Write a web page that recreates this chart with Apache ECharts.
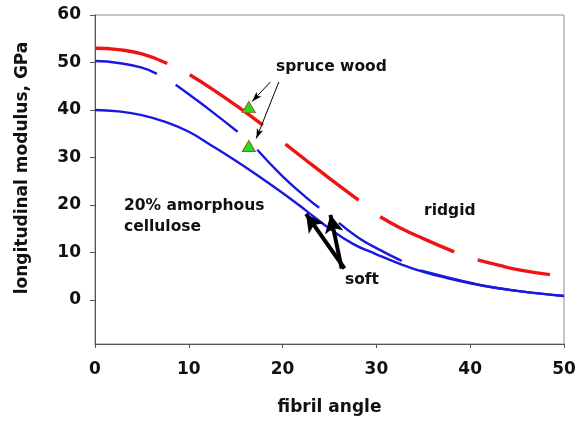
<!DOCTYPE html>
<html>
<head>
<meta charset="utf-8">
<script src="https://cdn.jsdelivr.net/npm/echarts@6/dist/echarts.min.js"></script>
<style>html,body{margin:0;padding:0;background:#fff}#c{width:588px;height:422px}</style>
</head>
<body>
<div id="c"></div>
<script>
// ---- data (x = fibril angle, y = modulus GPa); null = dash gap
const xTicks = [0, 10, 20, 30, 40, 50];
const yTicks = [0, 10, 20, 30, 40, 50, 60];

const ridgid = [[0,53],[2.5,52.7],[5,51.8],[7.7,49.8],[8.9,null],[10.1,47.4],[12.5,44.4],[15,41.0],[17.9,36.8],[19.1,null],
  [20.3,32.8],[22.5,29.4],[25,25.6],[28.1,21.0],[29.2,null],[30.4,17.5],[32.5,15.2],[35,12.9],[38.3,10.1],[39.5,null],
  [40.8,8.4],[43,7.3],[45.5,6.2],[48.5,5.3]];

const softDashed = [[0,50.3],[2.5,49.9],[5,48.9],[6.6,47.6],[7.6,null],[8.6,45.3],[10,43.3],[12.5,39.6],[15.2,35.4],[16.2,null],
  [17.3,31.6],[20,26.0],[22.5,21.6],[23.9,19.4],[25,null],[26,16.2],[28,13.2],[30,10.9],[32.7,8.2],[33.7,null],
  [34.7,6.2],[37.5,4.8],[40,3.6],[42.5,2.6],[45,1.9],[47.5,1.3],[50,0.8]];

const amorphous20 = [[0,40],[2.5,39.7],[5,38.9],[7.5,37.5],[10,35.4],[12.5,32.4],[15,29.3],[17.5,26.0],[20,22.5],[22.5,18.8],
  [25,15.0],[27.5,11.8],[30,9.6],[32.5,7.6],[35,5.9],[37.5,4.6],[40,3.5],[42.5,2.6],[45,1.9],[47.5,1.3],[50,0.8]];

const spruceWood = [[16.4,40.6],[16.4,32.4]];

// annotation arrows: [tail, tip]
const spruceArrows = [[[18.7,45.9],[16.75,41.8]], [[19.6,45.9],[17.2,34.0]]];
const softArrows = [[[26.6,6.6],[22.5,18.1]], [[26.3,6.6],[25.1,17.9]]];

const FONT = '"DejaVu Sans", sans-serif';
const RED = '#ee1414';
const BLUE = '#1818e0';

const chart = echarts.init(document.getElementById('c'), null, {renderer: 'canvas'});

function arrowLines(list, width, size) {
  return list.map(function (a) {
    return [
      {coord: a[0], symbol: 'none'},
      {coord: a[1], symbol: 'arrow', symbolSize: size, lineStyle: {color: '#000', width: width, type: 'solid'}}
    ];
  });
}

const lineCommon = {type: 'line', showSymbol: false, smooth: 0.5, connectNulls: false, silent: true};

chart.setOption({
  animation: false,
  backgroundColor: '#fff',
  grid: {left: 95, right: 24, top: 15, bottom: 78, show: true, borderColor: '#8c8c8c', borderWidth: 1, containLabel: false},
  xAxis: {
    type: 'value', min: 0, max: 50, interval: 10,
    axisLine: {show: true, onZero: false, lineStyle: {color: '#555', width: 1}},
    axisTick: {show: true, inside: false, length: 4, lineStyle: {color: '#555'}},
    axisLabel: {margin: 17, color: '#111', fontFamily: FONT, fontWeight: 'bold', fontSize: 17,
      formatter: function (v) { return xTicks.indexOf(v) >= 0 ? String(v) : ''; }},
    splitLine: {show: false},
    name: 'fibril angle', nameLocation: 'middle', nameGap: 55,
    nameTextStyle: {color: '#111', fontFamily: FONT, fontWeight: 'bold', fontSize: 17}
  },
  yAxis: {
    type: 'value', min: -9.3, max: 60,
    axisLine: {show: true, onZero: false, lineStyle: {color: '#555', width: 1}},
    axisTick: {show: true, inside: false, length: 5, customValues: yTicks, lineStyle: {color: '#555'}},
    axisLabel: {margin: 14, color: '#111', fontFamily: FONT, fontWeight: 'bold', fontSize: 17, customValues: yTicks},
    splitLine: {show: false}
  },
  graphic: [
    {type: 'text', x: 23, y: 168, rotation: Math.PI / 2,
      style: {text: 'longitudinal modulus, GPa', font: 'bold 17px ' + FONT, fill: '#111', align: 'center', verticalAlign: 'middle'}},
    {type: 'text', x: 276, y: 67,
      style: {text: 'spruce wood', font: 'bold 15.5px ' + FONT, fill: '#111', align: 'left', verticalAlign: 'middle'}},
    {type: 'text', x: 124, y: 206,
      style: {text: '20% amorphous', font: 'bold 15.5px ' + FONT, fill: '#111', align: 'left', verticalAlign: 'middle'}},
    {type: 'text', x: 124, y: 227,
      style: {text: 'cellulose', font: 'bold 15.5px ' + FONT, fill: '#111', align: 'left', verticalAlign: 'middle'}},
    {type: 'text', x: 424, y: 211,
      style: {text: 'ridgid', font: 'bold 15.5px ' + FONT, fill: '#111', align: 'left', verticalAlign: 'middle'}},
    {type: 'text', x: 345, y: 280,
      style: {text: 'soft', font: 'bold 15.5px ' + FONT, fill: '#111', align: 'left', verticalAlign: 'middle'}}
  ],
  series: [
    Object.assign({}, lineCommon, {name: '20% amorphous cellulose', data: amorphous20, lineStyle: {color: BLUE, width: 2.4}, z: 2}),
    Object.assign({}, lineCommon, {name: 'soft', data: softDashed, lineStyle: {color: BLUE, width: 2.4}, z: 2}),
    Object.assign({}, lineCommon, {name: 'ridgid', data: ridgid, lineStyle: {color: RED, width: 3.4}, z: 3}),
    {type: 'scatter', name: 'spruce wood', data: spruceWood, symbol: 'triangle', symbolSize: [13, 11],
      itemStyle: {color: '#22dd22', borderColor: '#8a6420', borderWidth: 1, opacity: 1}, silent: true, z: 5,
      markLine: {
        silent: true, animation: false, label: {show: false}, precision: 2,
        symbol: ['none', 'arrow'],
        data: arrowLines(spruceArrows, 1, [5, 10]).concat(arrowLines(softArrows, 4, [14, 18]))
      }
    }
  ]
});
</script>
</body>
</html>
